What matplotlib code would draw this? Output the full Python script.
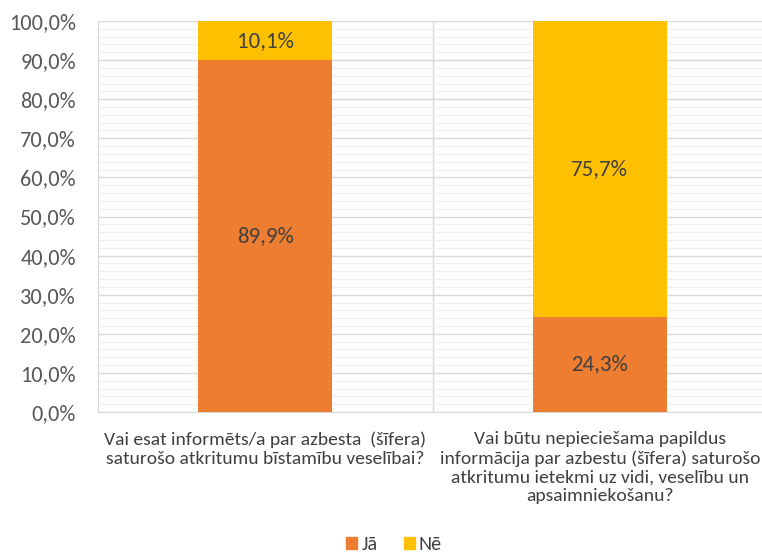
import matplotlib.pyplot as plt
from matplotlib.ticker import MultipleLocator, FuncFormatter
from matplotlib.patches import Patch

# Data
questions = ['Vai esat informēts/a par azbesta  (šīfera)\nsaturošo atkritumu bīstamību veselībai?',
             'Vai būtu nepieciešama papildus\ninformācija par azbestu (šīfera) saturošo\natkritumu ietekmi uz vidi, veselību un\napsaimniekošanu?']
ja_values = [89.9, 24.3]
ne_values = [10.1, 75.7]
series_names = ['Jā', 'Nē']

orange = '#ED7D31'
yellow = '#FFC000'

plt.rcParams['font.family'] = ['Carlito', 'Lato', 'DejaVu Sans']

fig = plt.figure(figsize=(7.62, 5.55), dpi=100)
ax = fig.add_axes([98 / 762, 143 / 555, 669 / 762, 391 / 555])

x = list(range(len(questions)))
ax.bar(x, ja_values, width=0.4, color=orange, zorder=3)
ax.bar(x, ne_values, width=0.4, bottom=ja_values, color=yellow, zorder=3)

for i in x:
    ax.text(i, ja_values[i] / 2, f'{ja_values[i]:.1f}%'.replace('.', ','),
            ha='center', va='center', fontsize=16.5, color='#404040', zorder=4)
    ax.text(i, ja_values[i] + ne_values[i] / 2, f'{ne_values[i]:.1f}%'.replace('.', ','),
            ha='center', va='center', fontsize=16.5, color='#404040', zorder=4)

ax.set_xlim(-0.5, 1.5)
ax.set_ylim(0, 100)
ax.yaxis.set_major_locator(MultipleLocator(10))
ax.yaxis.set_minor_locator(MultipleLocator(2))
ax.yaxis.set_major_formatter(FuncFormatter(lambda v, p: f'{v:.1f}%'.replace('.', ',')))
ax.grid(axis='y', which='major', color='#D9D9D9', linewidth=1.0, zorder=0)
ax.grid(axis='y', which='minor', color='#EFEFEF', linewidth=0.8, zorder=0)
for xv in [0.5, 1.5]:
    ax.axvline(xv, color='#D9D9D9', linewidth=1.0, zorder=1)

for s in ['top', 'right']:
    ax.spines[s].set_visible(False)
ax.spines['left'].set_color('#D9D9D9')
ax.spines['bottom'].set_color('#D9D9D9')

ax.tick_params(axis='y', which='both', length=0, labelsize=16, labelcolor='#595959', pad=16)
ax.tick_params(axis='x', length=0, pad=14)
ax.set_xticks(x)
ax.set_xticklabels(questions, linespacing=1.2, fontsize=14, color='#404040')

handles = [Patch(color=orange), Patch(color=yellow)]
fig.legend(handles, series_names, loc='center', bbox_to_anchor=(394 / 762, 1 - 545 / 555),
           ncol=2, frameon=False, fontsize=14.5, handlelength=0.55, handleheight=0.55,
           handletextpad=0.2, columnspacing=1.3, labelcolor='#404040')

fig.savefig('out.png', dpi=100)
